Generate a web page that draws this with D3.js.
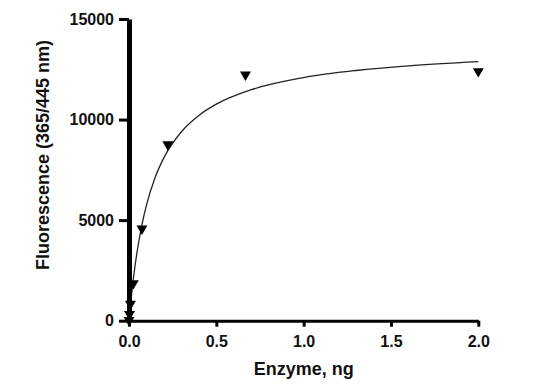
<!DOCTYPE html>
<html>
<head>
    <meta charset="UTF-8">
    <title>Enzyme titration</title>
    <script src="https://d3js.org/d3.v7.min.js"></script>
    <style>
        body { margin: 0; background: #fff; }
        text {
            font-family: "Liberation Sans", Arial, sans-serif;
            font-weight: bold;
            fill: #111;
        }
        .tick text { font-size: 16px; }
        .axis-label { font-size: 18px; }
        .fit { fill: none; stroke: #222; stroke-width: 1.3px; }
        .point { fill: #000; }
    </style>
</head>
<body>
<script>
    // measured points
    const enzyme = [0, 0.0027, 0.0082, 0.0247, 0.074, 0.222, 0.667, 2.0];
    const fluor = [30, 330, 830, 1860, 4580, 8760, 12230, 12400];

    // fitted curve
    const fitX = [0, 0.005, 0.01, 0.02, 0.03, 0.05, 0.075, 0.1, 0.15, 0.2, 0.3, 0.4, 0.5, 0.7, 1.0, 1.3, 1.6, 2.0];
    const fitY = [0, 475, 919, 1723, 2432, 3626, 4807, 5742, 7128, 8106, 9395, 10207, 10766, 11483, 12088, 12440, 12673, 12879];

    const xTicks = [0, 0.5, 1.0, 1.5, 2.0];
    const yTicks = [0, 5000, 10000, 15000];

    const width = 545;
    const height = 391;

    const svg = d3.select('body')
        .append('svg')
        .attr('width', width)
        .attr('height', height);

    const x = d3.scaleLinear().domain([0, 2]).range([129, 478.3]);
    const y = d3.scaleLinear().domain([0, 15000]).range([320.7, 19]);

    // fit line
    const line = d3.line()
        .x((d, i) => x(fitX[i]))
        .y(d => y(d))
        .curve(d3.curveMonotoneX);

    svg.append('path')
        .attr('class', 'fit')
        .attr('d', line(fitY));

    // data points, downward triangles
    const tri = d3.symbol().type(d3.symbolTriangle).size(52);
    svg.selectAll('.point')
        .data(enzyme)
        .enter()
        .append('path')
        .attr('class', 'point')
        .attr('d', tri)
        .attr('transform', (d, i) => `translate(${x(d)},${y(fluor[i])}) rotate(180)`);

    // axes
    const yAxis = svg.append('g')
        .attr('transform', `translate(${x(0)},0)`)
        .call(d3.axisLeft(y).tickValues(yTicks).tickFormat(d3.format('d'))
            .tickSize(10).tickSizeOuter(0).tickPadding(5));
    yAxis.select('.domain').attr('stroke', '#000').attr('stroke-width', 5);
    yAxis.selectAll('.tick line').attr('stroke', '#000').attr('stroke-width', 3);

    const xAxis = svg.append('g')
        .attr('transform', `translate(0,${y(0)})`)
        .call(d3.axisBottom(x).tickValues(xTicks).tickFormat(d3.format('.1f'))
            .tickSize(6).tickSizeOuter(0).tickPadding(9));
    xAxis.select('.domain').attr('stroke', '#000').attr('stroke-width', 3);
    xAxis.selectAll('.tick line').attr('stroke', '#000').attr('stroke-width', 3);

    svg.selectAll('.tick text').attr('fill', '#111');

    // axis titles
    svg.append('text')
        .attr('class', 'axis-label')
        .attr('x', (x(0) + x(2)) / 2)
        .attr('y', 375)
        .attr('text-anchor', 'middle')
        .text('Enzyme, ng');

    svg.append('text')
        .attr('class', 'axis-label')
        .attr('transform', 'translate(49,155) rotate(-90)')
        .attr('text-anchor', 'middle')
        .text('Fluorescence (365/445 nm)');
</script>
</body>
</html>
